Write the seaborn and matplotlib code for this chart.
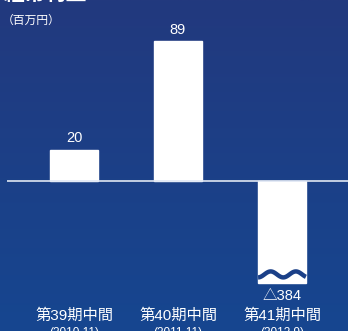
import numpy as np
import matplotlib
matplotlib.use("Agg")
import matplotlib.pyplot as plt
import seaborn as sns

categories = ["第39期中間", "第40期中間", "第41期中間"]
periods = ["(2010.11)", "(2011.11)", "(2012.9)"]
values = [20, 89, -384]
value_labels = ["20", "89", "△384"]
title = "経常利益"
unit = "（百万円）"

sns.set_theme(style="white")
plt.rcParams["font.family"] = ["Liberation Sans", "Noto Sans CJK JP", "DejaVu Sans"]

W, H = 348, 331
fig = plt.figure(figsize=(W / 100, H / 100), dpi=100)

# background gradient
bg = fig.add_axes([0, 0, 1, 1], zorder=0)
top = np.array([0x22, 0x39, 0x7e]) / 255
bot = np.array([0x16, 0x46, 0x90]) / 255
t = np.linspace(0, 1, 256)[:, None]
grad = top * (1 - t) + bot * t
bg.imshow(grad[:, None, :], aspect="auto", extent=[0, 1, 0, 1])
bg.set_axis_off()

ax = fig.add_axes([0, 0, 1, 1], zorder=1)
ax.patch.set_alpha(0)

# bars are drawn truncated (broken) below the break value
break_val = -65
shown = [max(v, break_val) for v in values]
sns.barplot(x=categories, y=shown, color="white", saturation=1, width=0.46, ax=ax, zorder=2)

ppu = 1.57  # pixels per unit
base_px = 181
x0_px, step_px = 22, 104
xmin = -0.5 - x0_px / step_px
xmax = (W - x0_px) / step_px - 0.5
ax.set_xlim(xmin, xmax)
ax.set_ylim(-(H - base_px) / ppu, base_px / ppu)
ax.set_axis_off()

bg_mid = top * 0.45 + bot * 0.55
# baseline
ax.hlines(0, -0.5 + (7 - x0_px) / step_px, xmax, color="#dfe6f3", lw=1.2, zorder=3)

# wave break on truncated bar
for i, v in enumerate(values):
    if v < break_val:
        xs = np.linspace(i - 0.23, i + 0.23, 100)
        ys = -59.5 + 1.9 * np.sin((xs - (i - 0.23)) / 0.46 * 2 * np.pi * 1.9 - np.pi / 2)
        ax.plot(xs, ys, color=bg_mid, lw=3.2, zorder=4, solid_capstyle="butt")

# value labels
for i, (v, s) in enumerate(zip(shown, value_labels)):
    if v >= 0:
        ax.text(i, v + 3, s, ha="center", va="bottom", color="white", fontsize=10.5)
    else:
        ax.text(i, v - 8, s, ha="center", va="center", color="white", fontsize=10.5)

# category labels
for i, (c, p) in enumerate(zip(categories, periods)):
    ax.text(i, -(316 - base_px) / ppu, c, ha="center", va="center", color="white", fontsize=11)
    ax.text(i, -(333 - base_px) / ppu, p, ha="center", va="center", color="white", fontsize=8.5)

fig.text(2 / W, 1 - 21 / H, unit, ha="left", va="center", color="white", fontsize=8.5)
fig.text(4 / W, 1 - 5 / H, title, ha="left", va="bottom", color="white", fontsize=15, fontweight="bold")

fig.savefig("out.png", dpi=100)
